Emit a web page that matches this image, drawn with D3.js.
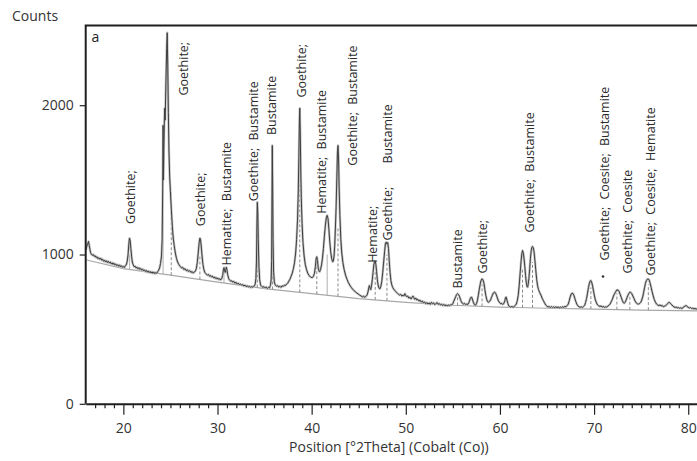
<!DOCTYPE html>
<html>
<head>
<meta charset="utf-8">
<script src="https://cdn.jsdelivr.net/npm/d3@7/dist/d3.min.js"></script>
<style>
  html, body { margin: 0; padding: 0; background: #fff; }
  svg { display: block; font-family: "Open Sans", "Noto Sans", sans-serif; }
</style>
</head>
<body>
<svg id="chart" width="697" height="461"></svg>
<script>
// Measured XRD scan: [position °2θ, counts]
const scan = [
  [16.0,1030],[16.08,1045],[16.15,1062],[16.22,1070],[16.3,1088],[16.38,1060],[16.45,1035],[16.52,1012],
  [16.6,1002],[16.7,995],[16.8,1000],[16.9,988],[17.0,992],[17.1,980],[17.2,985],[17.3,972],[17.4,978],
  [17.5,968],[17.6,975],[17.7,962],[17.8,968],[17.9,955],[18.0,962],[18.1,950],[18.2,958],[18.3,946],
  [18.4,955],[18.5,944],[18.6,950],[18.7,938],[18.8,945],[18.9,934],[19.0,942],[19.1,930],[19.2,936],
  [19.3,925],[19.4,932],[19.5,921],[19.6,930],[19.7,918],[19.8,925],[19.9,914],[20.0,920],[20.1,912],
  [20.2,925],[20.3,930],[20.4,950],[20.5,1000],[20.58,1070],[20.65,1110],[20.72,1095],[20.8,1040],
  [20.88,985],[20.95,950],[21.05,930],[21.15,918],[21.25,922],[21.35,910],[21.45,915],[21.55,904],
  [21.65,912],[21.75,900],[21.85,906],[21.95,896],[22.05,902],[22.15,890],[22.25,897],[22.35,886],
  [22.45,893],[22.55,882],[22.65,890],[22.75,879],[22.85,886],[22.95,876],[23.05,884],[23.15,874],
  [23.25,882],[23.35,872],[23.45,880],[23.55,874],[23.65,886],[23.75,895],[23.85,910],[23.95,940],
  [24.05,990],[24.12,1100],[24.18,1450],[24.22,1865],[24.26,1500],[24.3,1700],[24.38,1980],[24.44,1900],
  [24.52,2150],[24.6,2380],[24.66,2485],[24.72,2250],[24.78,1950],[24.84,1700],[24.92,1520],[25.0,1420],
  [25.1,1300],[25.2,1190],[25.3,1110],[25.4,1060],[25.52,1010],[25.64,975],[25.76,950],[25.9,932],
  [26.05,920],[26.18,910],[26.3,914],[26.42,900],[26.55,905],[26.68,892],[26.8,898],[26.92,886],
  [27.05,892],[27.18,880],[27.3,886],[27.42,876],[27.55,882],[27.65,890],[27.75,905],[27.85,945],
  [27.95,1010],[28.05,1080],[28.13,1110],[28.2,1100],[28.28,1050],[28.36,990],[28.45,935],[28.55,900],
  [28.65,880],[28.75,872],[28.85,866],[28.95,862],[29.05,866],[29.15,855],[29.25,860],[29.35,850],
  [29.45,856],[29.55,845],[29.65,850],[29.75,840],[29.85,846],[29.95,836],[30.05,842],[30.15,832],
  [30.25,838],[30.35,830],[30.45,840],[30.55,860],[30.62,895],[30.69,912],[30.76,890],[30.82,880],
  [30.88,900],[30.94,915],[31.0,900],[31.08,865],[31.18,840],[31.28,828],[31.38,822],[31.5,825],
  [31.6,815],[31.72,820],[31.84,808],[31.96,814],[32.08,802],[32.2,808],[32.32,798],[32.44,803],
  [32.56,794],[32.68,799],[32.8,789],[32.92,795],[33.04,785],[33.16,791],[33.28,782],[33.4,788],
  [33.52,779],[33.64,786],[33.76,780],[33.88,788],[34.0,800],[34.08,840],[34.14,950],[34.19,1210],
  [34.23,1350],[34.28,1280],[34.33,1100],[34.4,920],[34.48,830],[34.58,795],[34.7,786],[34.82,780],
  [34.94,785],[35.06,776],[35.18,782],[35.3,772],[35.42,780],[35.52,776],[35.62,792],[35.7,830],
  [35.75,960],[35.79,1400],[35.82,1730],[35.86,1450],[35.9,1100],[35.96,880],[36.04,815],[36.14,795],
  [36.26,788],[36.38,792],[36.5,782],[36.62,788],[36.74,780],[36.86,790],[36.98,786],[37.1,795],
  [37.22,792],[37.34,802],[37.46,808],[37.58,822],[37.7,835],[37.82,855],[37.94,875],[38.06,905],
  [38.18,945],[38.3,1010],[38.4,1100],[38.5,1230],[38.58,1420],[38.64,1650],[38.7,1900],[38.74,1980],
  [38.79,1820],[38.84,1580],[38.9,1380],[38.98,1210],[39.08,1080],[39.2,990],[39.32,935],[39.45,900],
  [39.6,872],[39.75,858],[39.9,848],[40.05,845],[40.18,852],[40.3,875],[40.4,920],[40.48,975],
  [40.55,985],[40.62,960],[40.7,910],[40.78,888],[40.86,885],[40.95,900],[41.05,930],[41.15,975],
  [41.25,1040],[41.35,1120],[41.45,1190],[41.55,1245],[41.65,1262],[41.74,1240],[41.83,1170],[41.92,1090],
  [42.02,1020],[42.12,975],[42.22,952],[42.3,955],[42.38,990],[42.45,1060],[42.52,1170],[42.6,1320],
  [42.67,1500],[42.74,1680],[42.8,1730],[42.86,1640],[42.92,1450],[43.0,1260],[43.1,1100],[43.2,1010],
  [43.32,945],[43.45,900],[43.6,862],[43.75,835],[43.9,812],[44.05,795],[44.2,780],[44.35,768],
  [44.5,758],[44.65,750],[44.8,742],[44.95,735],[45.1,728],[45.25,722],[45.4,716],[45.52,722],
  [45.64,712],[45.76,720],[45.88,728],[45.98,748],[46.06,775],[46.13,792],[46.2,775],[46.28,765],
  [46.36,790],[46.44,830],[46.52,880],[46.6,930],[46.68,952],[46.75,955],[46.82,935],[46.9,885],
  [46.98,830],[47.06,795],[47.15,775],[47.25,770],[47.35,785],[47.45,820],[47.55,880],[47.65,950],
  [47.75,1020],[47.84,1075],[47.92,1083],[48.0,1070],[48.08,1080],[48.16,1040],[48.24,960],[48.33,880],
  [48.42,825],[48.52,795],[48.62,778],[48.72,768],[48.82,760],[48.92,752],[49.02,746],[49.12,740],
  [49.22,735],[49.34,728],[49.46,733],[49.58,722],[49.7,728],[49.8,722],[49.9,738],[49.98,728],
  [50.08,718],[50.2,722],[50.32,708],[50.44,714],[50.56,702],[50.66,712],[50.76,722],[50.86,710],
  [50.96,700],[51.06,708],[51.16,696],[51.28,700],[51.4,688],[51.52,694],[51.64,682],[51.76,688],
  [51.88,676],[52.0,682],[52.12,670],[52.24,678],[52.36,668],[52.48,676],[52.6,666],[52.72,680],
  [52.84,670],[52.96,676],[53.08,664],[53.2,672],[53.32,678],[53.44,666],[53.56,672],[53.68,662],
  [53.8,668],[53.92,658],[54.04,666],[54.16,656],[54.28,663],[54.4,655],[54.52,662],[54.64,656],
  [54.76,664],[54.88,662],[55.0,672],[55.1,688],[55.2,702],[55.3,718],[55.4,732],[55.5,738],
  [55.6,732],[55.7,720],[55.8,700],[55.9,684],[56.0,674],[56.12,668],[56.24,673],[56.36,664],
  [56.48,668],[56.6,666],[56.7,678],[56.8,696],[56.9,712],[57.0,714],[57.1,695],[57.2,676],
  [57.3,664],[57.4,660],[57.5,670],[57.6,690],[57.7,725],[57.8,765],[57.9,800],[58.0,828],
  [58.1,837],[58.2,830],[58.3,808],[58.4,765],[58.5,725],[58.6,698],[58.7,684],[58.8,680],
  [58.9,686],[59.0,695],[59.1,712],[59.2,728],[59.3,742],[59.4,748],[59.5,745],[59.6,732],
  [59.7,715],[59.8,695],[59.9,682],[60.0,676],[60.1,670],[60.2,672],[60.3,666],[60.42,672],
  [60.52,690],[60.6,712],[60.66,715],[60.74,695],[60.84,672],[60.94,655],[61.04,650],[61.16,648],
  [61.28,652],[61.4,646],[61.52,652],[61.62,658],[61.74,668],[61.84,690],[61.94,725],[62.04,790],
  [62.14,870],[62.24,950],[62.32,1005],[62.4,1027],[62.48,1010],[62.56,975],[62.64,920],[62.72,860],
  [62.8,812],[62.88,785],[62.94,781],[63.0,800],[63.08,840],[63.16,905],[63.24,975],[63.32,1025],
  [63.4,1050],[63.46,1054],[63.54,1045],[63.62,1020],[63.7,970],[63.8,900],[63.9,835],[64.0,790],
  [64.1,765],[64.22,745],[64.36,728],[64.5,705],[64.62,690],[64.74,676],[64.86,662],[64.98,655],
  [65.1,648],[65.22,652],[65.34,645],[65.46,651],[65.58,644],[65.7,650],[65.82,643],[65.94,650],
  [66.06,644],[66.18,649],[66.3,642],[66.42,648],[66.54,644],[66.66,650],[66.78,646],[66.9,652],
  [67.02,650],[67.14,658],[67.26,668],[67.36,690],[67.46,715],[67.56,735],[67.66,741],[67.76,738],
  [67.86,725],[67.96,705],[68.06,685],[68.16,668],[68.28,656],[68.4,650],[68.52,646],[68.64,650],
  [68.76,645],[68.88,652],[69.0,660],[69.1,680],[69.2,705],[69.3,740],[69.4,778],[69.5,808],
  [69.58,822],[69.66,826],[69.74,815],[69.84,790],[69.94,755],[70.04,722],[70.14,695],[70.26,675],
  [70.38,662],[70.5,656],[70.62,652],[70.74,656],[70.86,648],[70.98,652],[71.1,646],[71.22,650],
  [71.34,648],[71.46,654],[71.58,660],[71.7,668],[71.82,684],[71.94,700],[72.06,722],[72.18,738],
  [72.3,752],[72.42,763],[72.54,762],[72.66,752],[72.78,732],[72.9,710],[73.0,692],[73.1,678],
  [73.2,674],[73.3,680],[73.4,694],[73.5,712],[73.6,728],[73.7,740],[73.8,748],[73.9,746],
  [74.0,738],[74.12,722],[74.24,705],[74.36,688],[74.48,676],[74.6,670],[74.72,668],[74.84,672],
  [74.96,680],[75.06,695],[75.16,715],[75.26,745],[75.36,778],[75.46,808],[75.56,826],[75.66,835],
  [75.76,837],[75.86,828],[75.96,806],[76.06,780],[76.16,752],[76.28,722],[76.4,698],[76.52,680],
  [76.64,668],[76.76,662],[76.88,658],[77.0,662],[77.12,655],[77.24,659],[77.36,650],[77.48,654],
  [77.6,658],[77.72,665],[77.84,672],[77.94,680],[78.04,678],[78.14,670],[78.24,664],[78.36,655],
  [78.48,650],[78.6,645],[78.72,648],[78.84,642],[78.96,645],[79.08,640],[79.2,643],[79.32,638],
  [79.44,644],[79.56,650],[79.68,656],[79.78,658],[79.88,652],[80.0,646],[80.12,642],[80.24,645],
  [80.36,638],[80.48,641],[80.6,636],[80.72,639],[80.84,634],[80.96,637],[81.08,632],[81.25,630]
];

// Fitted background
const bgPos = [16, 20, 25, 30, 35, 40, 45, 50, 55, 60, 65, 70, 75, 81.25];
const bgCounts = [965, 905, 862, 815, 772, 738, 705, 680, 660, 648, 640, 634, 628, 622];

// Peak markers: position, top count, dashed
const stickPos = [20.67, 24.22, 25.09, 28.13, 30.69, 34.23, 35.85, 38.74, 40.55, 41.65, 42.8, 46.75, 48.0, 55.5, 58.1, 62.4, 63.46, 69.66, 72.42, 73.8, 75.76];
const stickTop = [1000, 1860, 1415, 1000, 900, 1200, 1100, 1650, 950, 1000, 1180, 900, 1000, 720, 800, 900, 950, 780, 740, 720, 800];
const stickDashed = [false, false, true, true, false, true, true, true, true, false, true, true, true, true, true, true, true, true, true, true, true];

// Phase labels: text, position, count at the lower end of the text
const labelText = [
  "Goethite;", "Goethite;", "Goethite;", "Hematite; Bustamite", "Goethite; Bustamite", "Bustamite",
  "Goethite;", "Hematite; Bustamite", "Goethite; Bustamite", "Hematite;", "Goethite;", "Bustamite",
  "Bustamite", "Goethite;", "Goethite; Bustamite", "Goethite; Coesite; Bustamite", "Goethite; Coesite",
  "Goethite; Coesite; Hematite"
];
const labelPos = [20.75, 26.44, 28.25, 31.0, 33.85, 35.75, 38.97, 41.1, 44.39, 46.51, 48.11, 48.11, 55.54, 58.2, 63.19, 71.16, 73.6, 76.04];
const labelBase = [1205, 2065, 1190, 926, 1356, 1800, 2051, 1273, 1595, 944, 1094, 1609, 772, 872, 1147, 960, 872, 859];

const xTicks = [20, 30, 40, 50, 60, 70, 80];
const yTicks = [0, 1000, 2000];

const svg = d3.select("#chart");
const mLeft = 85.7, mRight = 700, mTop = 25.5, mBottom = 403.8;

const x = d3.scaleLinear().domain([16, 81.25]).range([mLeft, mRight]);
const y = d3.scaleLinear().domain([0, 2534]).range([mBottom, mTop]);

function bgAt(p) {
  let i = d3.bisectRight(bgPos, p) - 1;
  i = Math.max(0, Math.min(bgPos.length - 2, i));
  const t = (p - bgPos[i]) / (bgPos[i + 1] - bgPos[i]);
  return bgCounts[i] + t * (bgCounts[i + 1] - bgCounts[i]);
}

const plot = svg.append("g");

// background line
const bgLine = d3.line().x((d, i) => x(bgPos[i])).y(d => y(d));
plot.append("path")
  .attr("d", bgLine(bgCounts))
  .attr("fill", "none")
  .attr("stroke", "#a8a8a8")
  .attr("stroke-width", 1.2);

// peak markers
plot.selectAll("line.stick")
  .data(stickPos)
  .join("line")
  .attr("class", "stick")
  .attr("x1", d => x(d)).attr("x2", d => x(d))
  .attr("y1", d => y(bgAt(d)))
  .attr("y2", (d, i) => y(stickTop[i]))
  .attr("stroke", (d, i) => stickDashed[i] ? "#8a8a8a" : "#b0b0b0")
  .attr("stroke-width", 1)
  .attr("stroke-dasharray", (d, i) => stickDashed[i] ? "3,2" : null);

// scan profile: light fitted halo underneath, darker trace on top
const scanLine = d3.line().x(d => x(d[0])).y(d => y(d[1]));
plot.append("path")
  .attr("d", scanLine(scan))
  .attr("fill", "none")
  .attr("stroke", "#c2c2c2")
  .attr("stroke-width", 2.4)
  .attr("stroke-linejoin", "round");
plot.append("path")
  .attr("d", scanLine(scan))
  .attr("fill", "none")
  .attr("stroke", "#3e3e3e")
  .attr("stroke-width", 1)
  .attr("stroke-linejoin", "round");

// stray marker next to the 70° group
plot.append("circle")
  .attr("cx", x(70.95)).attr("cy", y(853)).attr("r", 1.3).attr("fill", "#333");

// phase labels, rotated to read upward
plot.selectAll("text.phase")
  .data(labelText)
  .join("text")
  .attr("class", "phase")
  .attr("transform", (d, i) => `translate(${x(labelPos[i])},${y(labelBase[i])}) rotate(-90)`)
  .attr("dy", "0.35em")
  .attr("font-size", 12.5)
  .attr("word-spacing", 4)
  .attr("fill", "#2a2a2a")
  .text(d => d);

// frame
svg.append("path")
  .attr("d", `M${mRight},${mTop}H${mLeft}V${mBottom}`)
  .attr("fill", "none")
  .attr("stroke", "#1e1e1e")
  .attr("stroke-width", 2);

// x axis: minor ticks every degree, labelled majors
const minorTicks = d3.range(17, 82, 1).filter(v => v % 10 !== 0);
const gxMinor = svg.append("g")
  .attr("transform", `translate(0,${mBottom})`)
  .call(d3.axisBottom(x).tickValues(minorTicks).tickSize(4.5).tickSizeOuter(0).tickFormat(""));
gxMinor.select(".domain").remove();
gxMinor.selectAll("line").attr("stroke", "#222").attr("stroke-width", 1.2);

const gx = svg.append("g")
  .attr("transform", `translate(0,${mBottom})`)
  .call(d3.axisBottom(x).tickValues(xTicks).tickSize(11).tickSizeOuter(0).tickPadding(8));
gx.select(".domain").attr("stroke", "#1e1e1e").attr("stroke-width", 2);
gx.selectAll("line").attr("stroke", "#222").attr("stroke-width", 1.2);
gx.selectAll("text").attr("font-size", 14).attr("fill", "#333").attr("font-family", "Open Sans");

const gy = svg.append("g")
  .attr("transform", `translate(${mLeft},0)`)
  .call(d3.axisLeft(y).tickValues(yTicks).tickFormat(d3.format("d")).tickSize(6).tickSizeOuter(0).tickPadding(6));
gy.select(".domain").remove();
gy.selectAll("line").attr("stroke", "#222").attr("stroke-width", 1.2);
gy.selectAll("text").attr("font-size", 14).attr("fill", "#333").attr("font-family", "Open Sans");

// titles
svg.append("text")
  .attr("x", 12).attr("y", 20.5)
  .attr("font-size", 14).attr("fill", "#333")
  .text("Counts");

svg.append("text")
  .attr("x", 91.5).attr("y", 41.5)
  .attr("font-size", 14).attr("fill", "#222")
  .text("a");

svg.append("text")
  .attr("x", x(48.2)).attr("y", 452)
  .attr("text-anchor", "middle")
  .attr("font-size", 14).attr("fill", "#333")
  .text("Position [°2Theta] (Cobalt (Co))");
</script>
</body>
</html>
